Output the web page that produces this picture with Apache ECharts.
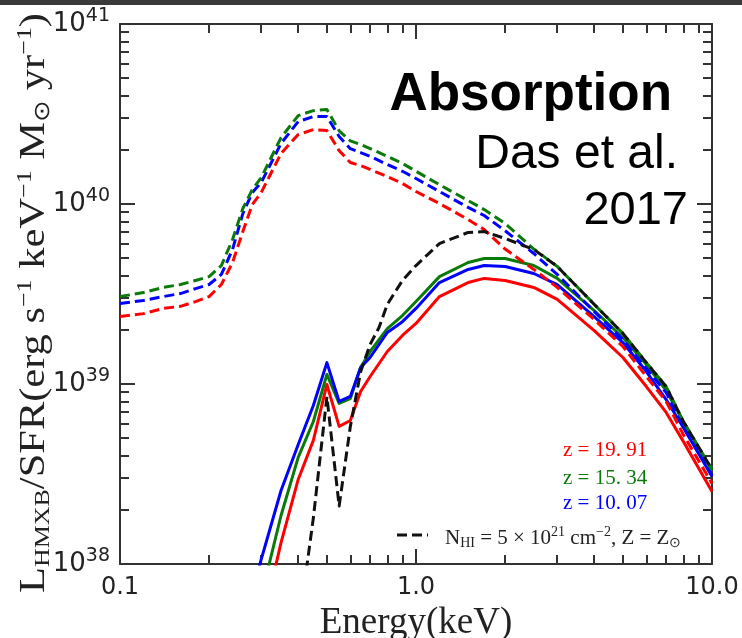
<!DOCTYPE html>
<html><head><meta charset="utf-8">
<script src="https://cdn.jsdelivr.net/npm/echarts@6/dist/echarts.min.js"></script>
<style>html,body{margin:0;padding:0;background:#fff}#c{width:742px;height:638px}</style>
</head><body><div id="c"></div>
<script>
// ---- data (energy in keV, L_HMXB/SFR in erg s^-1 keV^-1 Msun^-1 yr) ----
const energy = [0.1,0.12,0.14,0.16,0.18,0.2,0.22,0.24,0.26,0.28,0.3,0.35,0.4,0.45,0.5,0.55,0.6,0.65,0.7,0.8,0.9,1.0,1.2,1.5,1.7,2.0,2.5,3,4,5,6,7,8,10];
const intrinsicZ1991 = [2.37e39,2.46e39,2.63e39,2.70e39,2.87e39,3.06e39,3.57e39,4.73e39,7.03e39,9.94e39,1.158e40,1.91e40,2.43e40,2.59e40,2.56e40,1.98e40,1.70e40,1.636e40,1.555e40,1.422e40,1.30e40,1.173e40,1.006e40,8.20e39,7.21e39,5.62e39,4.33e39,3.44e39,2.28e39,1.616e39,1.101e39,8.0e38,5.24e38,2.80e38];
const intrinsicZ1534 = [3.06e39,3.22e39,3.44e39,3.57e39,3.76e39,3.95e39,4.55e39,6.35e39,9.44e39,1.205e40,1.40e40,2.34e40,3.10e40,3.30e40,3.35e40,2.55e40,2.24e40,2.14e40,2.03e40,1.84e40,1.68e40,1.52e40,1.28e40,1.045e40,9.31e39,7.80e39,5.62e39,4.50e39,2.77e39,1.91e39,1.315e39,9.68e38,6.19e38,3.35e38];
const intrinsicZ1007 = [2.80e39,2.91e39,3.06e39,3.18e39,3.39e39,3.57e39,4.06e39,5.59e39,8.85e39,1.158e40,1.316e40,2.17e40,2.87e40,3.06e40,3.06e40,2.37e40,2.03e40,1.93e40,1.84e40,1.656e40,1.52e40,1.386e40,1.173e40,9.57e39,8.63e39,7.10e39,5.31e39,4.06e39,2.53e39,1.767e39,1.219e39,8.97e38,5.81e38,3.10e38];

const energyAbs = [0.28,0.3,0.35,0.4,0.45,0.5,0.55,0.6,0.65,0.7,0.8,0.9,1.0,1.2,1.5,1.7,2.0,2.5,3,4,5,6,7,8,10];
const absorbedZ1991 = [3.0e37,4.4e37,1.315e38,2.95e38,4.86e38,9.94e38,5.81e38,6.27e38,9.08e38,1.101e39,1.516e39,1.86e39,2.17e39,3.06e39,3.66e39,3.86e39,3.76e39,3.44e39,2.95e39,1.98e39,1.404e39,9.68e38,6.95e38,4.80e38,2.53e38];
const absorbedZ1534 = [4.5e37,6.6e37,1.86e38,3.91e38,6.19e38,1.13e39,7.80e38,8.30e38,1.236e39,1.516e39,2.03e39,2.40e39,2.87e39,3.95e39,4.73e39,4.98e39,4.98e39,4.55e39,3.86e39,2.56e39,1.81e39,1.283e39,9.20e38,6.19e38,3.31e38];
const absorbedZ1007 = [7.0e37,1.06e38,2.56e38,4.61e38,7.60e38,1.315e39,8.0e38,8.53e38,1.236e39,1.404e39,1.932e39,2.22e39,2.63e39,3.66e39,4.33e39,4.55e39,4.50e39,4.11e39,3.57e39,2.37e39,1.70e39,1.173e39,8.20e38,5.73e38,3.06e38];

const energyLocal = [0.4,0.45,0.5,0.55,0.6,0.65,0.7,0.75,0.8,0.9,1.0,1.2,1.5,1.7,2.0,2.5,3,4,5,6,7,8,10];
const absorbedLocal = [4.3e37,1.8e38,8.5e38,2.1e38,5.8e38,1.17e39,1.66e39,2.06e39,2.77e39,3.76e39,4.55e39,6.03e39,6.95e39,7.03e39,6.43e39,5.59e39,4.50e39,2.77e39,1.91e39,1.315e39,9.68e38,6.19e38,3.35e38];

const xTickLabels = ['0.1','1.0','10.0'];
const yTickPowers = ['38','39','40','41'];
const xMinorTicks = [0.2,0.3,0.4,0.5,0.6,0.7,0.8,0.9,2,3,4,5,6,7,8,9];
const yMinorTicks = [2e38,3e38,4e38,5e38,6e38,7e38,8e38,9e38,2e39,3e39,4e39,5e39,6e39,7e39,8e39,9e39,2e40,3e40,4e40,5e40,6e40,7e40,8e40,9e40];

const RED = '#ff0000', GREEN = '#0a7a0a', BLUE = '#0000ff', BLACK = '#111111';

function pairs(xs, ys) { return xs.map((x, i) => [x, ys[i]]); }

const frame = { color: '#333', width: 2 };
function xAxisDef(position, major, showLine, showLabel) {
  return {
    type: 'log', logBase: 10, min: 0.1, max: 10, position: position,
    axisLine: { show: showLine, onZero: false, lineStyle: frame },
    axisTick: major
      ? { show: true, inside: true, length: 15, lineStyle: frame }
      : { show: true, inside: true, length: 9, lineStyle: frame, customValues: xMinorTicks },
    axisLabel: {
      show: showLabel, margin: 12, fontSize: 24, fontFamily: 'DejaVu Sans', color: '#222',
      showMinLabel: true, showMaxLabel: true,
      formatter: v => xTickLabels[Math.round(Math.log10(v)) + 1]
    },
    splitLine: { show: false }
  };
}
function yAxisDef(position, major, showLine, showLabel) {
  return {
    type: 'log', logBase: 10, min: 1e38, max: 1e41, position: position,
    axisLine: { show: showLine, onZero: false, lineStyle: frame },
    axisTick: major
      ? { show: true, inside: true, length: 15, lineStyle: frame }
      : { show: true, inside: true, length: 9, lineStyle: frame, customValues: yMinorTicks },
    axisLabel: {
      show: showLabel, margin: 10, color: '#222',
      showMinLabel: true, showMaxLabel: true,
      formatter: v => '{b|10}{s|' + yTickPowers[Math.round(Math.log10(v)) - 38] + '}',
      rich: {
        b: { fontSize: 26, fontFamily: 'DejaVu Sans', color: '#222' },
        s: { fontSize: 19, fontFamily: 'DejaVu Sans', color: '#222', padding: [0, 0, 15, 0] }
      }
    },
    splitLine: { show: false }
  };
}

const xa0 = xAxisDef('bottom', true, true, true);
xa0.name = 'Energy(keV)';
xa0.nameLocation = 'middle';
xa0.nameGap = 29;
xa0.nameTextStyle = { fontFamily: 'Liberation Serif', fontSize: 37, color: '#222' };

function lineSeries(name, xs, ys, color, dashed) {
  return {
    name: name, type: 'line', data: pairs(xs, ys), showSymbol: false, symbol: 'none',
    clip: true, animation: false, z: dashed ? 3 : 2,
    lineStyle: { color: color, width: 3, type: dashed ? [10, 5] : 'solid', cap: 'butt', join: 'round' }
  };
}

const chart = echarts.init(document.getElementById('c'), null, { renderer: 'canvas' });
chart.setOption({
  backgroundColor: '#fff',
  animation: false,
  grid: { left: 120, right: 30, top: 24, bottom: 74, containLabel: false, outerBoundsMode: 'none' },
  xAxis: [xa0, xAxisDef('bottom', false, false, false), xAxisDef('top', true, true, false), xAxisDef('top', false, false, false)],
  yAxis: [yAxisDef('left', true, true, true), yAxisDef('left', false, false, false), yAxisDef('right', true, true, false), yAxisDef('right', false, false, false)],
  series: [
    lineSeries('absorbed z=19.91', energyAbs, absorbedZ1991, RED, false),
    lineSeries('absorbed z=15.34', energyAbs, absorbedZ1534, GREEN, false),
    lineSeries('absorbed z=10.07', energyAbs, absorbedZ1007, BLUE, false),
    lineSeries('intrinsic z=19.91', energy, intrinsicZ1991, RED, true),
    lineSeries('intrinsic z=10.07', energy, intrinsicZ1007, BLUE, true),
    lineSeries('intrinsic z=15.34', energy, intrinsicZ1534, GREEN, true),
    lineSeries('N_HI=5e21, Z=Zsun', energyLocal, absorbedLocal, BLACK, true)
  ],
  graphic: [
    { type: 'rect', left: 0, top: 0, shape: { width: 742, height: 5 }, style: { fill: '#3a3a3a' }, silent: true },
    { type: 'text', x: 35, y: 303, rotation: Math.PI / 2, scaleX: 1.18, scaleY: 1,
      style: {
        text: '{r|L}{sb|HMXB}{r|/SFR(erg s}{sp|−1}{r| keV}{sp|−1}{r| M}{sb|⊙}{r| yr}{sp|−1}{r|)}',
        align: 'center', verticalAlign: 'middle', fill: '#222',
        rich: {
          r: { fontSize: 36, fontFamily: 'Liberation Serif', fill: '#222' },
          sb: { fontSize: 22, fontFamily: 'Liberation Serif', fill: '#222', padding: [16, 0, 0, 0] },
          sp: { fontSize: 22, fontFamily: 'Liberation Serif', fill: '#222', padding: [0, 0, 19, 0] }
        }
      } },
    { type: 'text', x: 672, y: 95, style: { text: 'Absorption', align: 'right', verticalAlign: 'middle', font: 'bold 53px "Liberation Sans"', fill: '#000' } },
    { type: 'text', x: 678, y: 155, style: { text: 'Das et al.', align: 'right', verticalAlign: 'middle', font: '48px "Liberation Sans"', fill: '#000' } },
    { type: 'text', x: 688, y: 211, style: { text: '2017', align: 'right', verticalAlign: 'middle', font: '47px "Liberation Sans"', fill: '#000' } },
    { type: 'text', x: 563, y: 450, style: { text: 'z = 19. 91', align: 'left', verticalAlign: 'middle', font: '21px "Liberation Serif"', fill: RED } },
    { type: 'text', x: 563, y: 478, style: { text: 'z = 15. 34', align: 'left', verticalAlign: 'middle', font: '21px "Liberation Serif"', fill: GREEN } },
    { type: 'text', x: 563, y: 503, style: { text: 'z = 10. 07', align: 'left', verticalAlign: 'middle', font: '21px "Liberation Serif"', fill: BLUE } },
    { type: 'line', shape: { x1: 397, y1: 535, x2: 428, y2: 535 }, style: { stroke: BLACK, lineWidth: 3, lineDash: [10, 5] } },
    { type: 'text', x: 445, y: 538,
      style: {
        text: '{r|N}{sb|HI}{r| = 5 × 10}{sp|21}{r| cm}{sp|−2}{r|, Z = Z}{sb|⊙}',
        align: 'left', verticalAlign: 'middle', fill: '#222',
        rich: {
          r: { fontSize: 21, fontFamily: 'Liberation Serif', fill: '#222' },
          sb: { fontSize: 14, fontFamily: 'Liberation Serif', fill: '#222', padding: [10, 0, 0, 0] },
          sp: { fontSize: 14, fontFamily: 'Liberation Serif', fill: '#222', padding: [0, 0, 11, 0] }
        }
      } }
  ]
});
</script></body></html>
